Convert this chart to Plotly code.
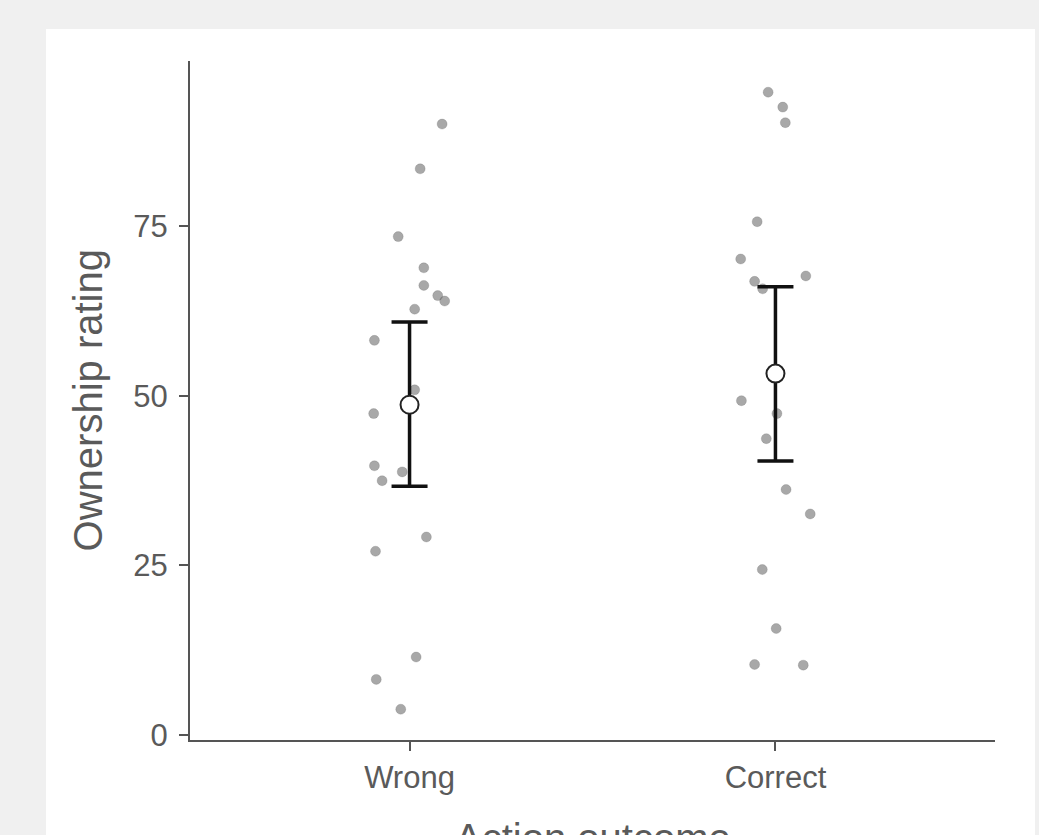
import plotly.graph_objects as go

# ---- data ----
categories = ["Wrong", "Correct"]

wrong_values = [90.1, 83.5, 73.5, 68.9, 66.3, 64.8, 64.0, 62.8, 58.2, 50.9,
                47.4, 39.7, 38.8, 37.5, 29.2, 27.1, 11.5, 8.2, 3.8]
wrong_jitter = [0.089, 0.029, -0.031, 0.039, 0.039, 0.077, 0.096, 0.014, -0.096, 0.014,
                -0.098, -0.096, -0.020, -0.075, 0.046, -0.093, 0.018, -0.091, -0.024]

correct_values = [94.8, 92.6, 90.3, 75.7, 70.2, 67.7, 66.9, 65.8, 49.3, 47.4,
                  43.7, 36.2, 32.6, 24.4, 15.7, 10.4, 10.3]
correct_jitter = [-0.020, 0.020, 0.027, -0.050, -0.095, 0.083, -0.057, -0.035, -0.093, 0.004,
                  -0.025, 0.029, 0.095, -0.036, 0.002, -0.057, 0.076]

means = [48.7, 53.3]
ci_lower = [36.7, 40.4]
ci_upper = [60.9, 66.1]

y_tickvals = [0, 25, 50, 75]
x_title = "Action outcome"
y_title = "Ownership rating"

# ---- figure ----
cat_pos = [1, 2]
fig = go.Figure()

for pos, vals, jit in [(cat_pos[0], wrong_values, wrong_jitter),
                       (cat_pos[1], correct_values, correct_jitter)]:
    fig.add_trace(go.Scatter(
        x=[pos + j for j in jit], y=vals, mode="markers",
        marker=dict(size=10, color="rgba(110,110,110,0.6)",
                    line=dict(width=0.6, color="rgba(90,90,90,0.35)")),
        showlegend=False, hoverinfo="y"))

fig.add_trace(go.Scatter(
    x=cat_pos, y=means, mode="markers",
    marker=dict(size=18, color="white", line=dict(width=2, color="#222222")),
    error_y=dict(type="data", symmetric=False,
                 array=[u - m for u, m in zip(ci_upper, means)],
                 arrayminus=[m - l for l, m in zip(ci_lower, means)],
                 color="#111111", thickness=3.5, width=18),
    showlegend=False, hoverinfo="y"))

axis_color = "#555555"
text_color = "#5a5a5a"
fig.update_layout(
    width=1039, height=835,
    paper_bgcolor="#f0f0f0", plot_bgcolor="white",
    margin=dict(l=190, r=44, t=61, b=95),
    font=dict(family="Liberation Sans, Arial, sans-serif", color=text_color),
    xaxis=dict(range=[0.4, 2.6], tickvals=cat_pos, ticktext=categories,
               showgrid=False, zeroline=False, showline=True, linecolor=axis_color,
               linewidth=2, ticks="outside", ticklen=9, tickwidth=2, tickcolor=axis_color,
               tickfont=dict(size=31, color=text_color)),
    yaxis=dict(range=[-0.74, 99.4], tickvals=y_tickvals,
               showgrid=False, zeroline=False, showline=True, linecolor=axis_color,
               linewidth=2, ticks="outside", ticklen=9, tickwidth=2, tickcolor=axis_color,
               ticklabelstandoff=5,
               tickfont=dict(size=31, color=text_color)),
    shapes=[dict(type="rect", xref="paper", yref="paper", layer="below",
                 x0=-0.1789, x1=1.0497, y0=-0.3, y1=1.0471,
                 fillcolor="white", line=dict(width=0))],
    annotations=[
        dict(text=y_title, xref="paper", yref="paper", x=-0.1268, y=0.5,
             xanchor="center", yanchor="middle", textangle=-90, showarrow=False,
             font=dict(size=40, color=text_color)),
        dict(text=x_title, xref="paper", yref="paper", x=0.5, y=-0.109,
             xanchor="center", yanchor="top", showarrow=False,
             font=dict(size=40, color=text_color)),
    ],
)

fig.write_html(
    "out.html",
    config={"displayModeBar": False},
    post_script="document.body.style.margin='0';document.body.style.background='#f0f0f0';",
)
